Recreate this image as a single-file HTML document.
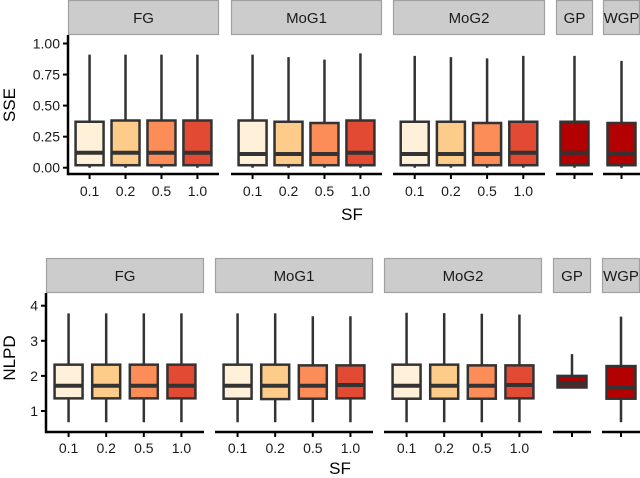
<!DOCTYPE html>
<html><head><meta charset="utf-8">
<style>
html,body{margin:0;padding:0;background:#fff;}
svg{display:block;font-family:"Liberation Sans",Arial,sans-serif;}
</style></head>
<body>
<svg id="chart" width="640" height="478" viewBox="0 0 640 478"></svg>
<script>
// ---- data ----
const panels = ["FG","MoG1","MoG2","GP","WGP"];
const sfLevels = ["0.1","0.2","0.5","1.0"];
const sseTicks = [0, 0.25, 0.5, 0.75, 1.0];
const sseTickLabels = ["0.00","0.25","0.50","0.75","1.00"];
const nlpdTicks = [1,2,3,4];
const nlpdTickLabels = ["1","2","3","4"];
// SSE per panel: [low, q1, median, q3, high]
const sseFG   = [[0,0.02,0.12,0.37,0.91],[0,0.02,0.12,0.38,0.91],[0,0.02,0.12,0.38,0.91],[0,0.02,0.12,0.38,0.91]];
const sseMoG1 = [[0,0.02,0.11,0.38,0.91],[0,0.02,0.11,0.37,0.89],[0,0.02,0.11,0.36,0.87],[0,0.02,0.12,0.38,0.92]];
const sseMoG2 = [[0,0.02,0.11,0.37,0.90],[0,0.02,0.11,0.37,0.89],[0,0.02,0.11,0.36,0.88],[0,0.02,0.12,0.37,0.90]];
const sseGP   = [[0,0.02,0.12,0.37,0.90]];
const sseWGP  = [[0,0.02,0.11,0.36,0.86]];
// NLPD
const nlpdFG   = [[0.68,1.36,1.72,2.32,3.78],[0.68,1.36,1.72,2.32,3.78],[0.68,1.36,1.72,2.32,3.78],[0.68,1.36,1.72,2.32,3.78]];
const nlpdMoG1 = [[0.68,1.35,1.72,2.32,3.78],[0.68,1.34,1.72,2.32,3.78],[0.68,1.35,1.72,2.30,3.70],[0.68,1.36,1.74,2.30,3.70]];
const nlpdMoG2 = [[0.68,1.35,1.72,2.32,3.80],[0.68,1.35,1.72,2.32,3.79],[0.68,1.35,1.72,2.30,3.77],[0.68,1.36,1.74,2.30,3.75]];
const nlpdGP   = [[1.66,1.67,1.80,2.00,2.62]];
const nlpdWGP  = [[0.68,1.35,1.66,2.28,3.69]];
const fills4 = ["#FEF0D9","#FDCC8A","#FC8D59","#E34A33"];
const fillGP = "#B30000";

const NS="http://www.w3.org/2000/svg";
const svg=document.getElementById('chart');
function el(tag,attrs,parent){const e=document.createElementNS(NS,tag);for(const k in attrs)e.setAttribute(k,attrs[k]);(parent||svg).appendChild(e);return e;}

function drawRow(cfg){
  const g=el('g',{});
  
  
  const y=v=>cfg.y0+(v-cfg.vmin)*(cfg.y1-cfg.y0)/(cfg.vmax-cfg.vmin);
  cfg.panels.forEach((p,pi)=>{
    const pg=el('g',{},g);
    
    
    const s=el('rect',{x:p.x0+0.5,y:cfg.stripTop+0.5,width:p.x1-p.x0-1,height:cfg.stripBot-cfg.stripTop-1,fill:'#CCCCCC',stroke:'#A0A0A0','stroke-width':1.2},pg);
    
    
    const st=el('text',{x:(p.x0+p.x1)/2,y:(cfg.stripTop+cfg.stripBot)/2+5.5,'text-anchor':'middle','font-size':15,fill:'#1a1a1a'},pg);
    st.textContent=p.label;
    
    
    const n=p.data.length;
    const step=(p.x1-p.x0)/(n+0.2);
    const cx=i=>n===1?(p.x0+p.x1)/2:p.x0+(i+0.6)*step;
    const ax=el('line',{x1:p.x0,x2:p.x1,y1:cfg.axisY,y2:cfg.axisY,stroke:'#000','stroke-width':2.5},pg);
    
    
    p.data.forEach((d,i)=>{
      const x=cx(i), w=p.bw;
      const bg=el('g',{},pg);
      
      
      el('line',{x1:x,x2:x,y1:y(d[0]),y2:y(d[4]),stroke:'#333','stroke-width':2.5},bg);
      el('rect',{x:x-w/2,y:y(d[3]),width:w,height:y(d[1])-y(d[3]),fill:n===1?fillGP:fills4[i],stroke:'#333','stroke-width':2.5},bg);
      el('line',{x1:x-w/2,x2:x+w/2,y1:y(d[2]),y2:y(d[2]),stroke:'#333','stroke-width':4},bg);
      el('line',{x1:x,x2:x,y1:cfg.axisY,y2:cfg.axisY+5,stroke:'#000','stroke-width':2},pg);
      if(n>1){
        const t=el('text',{x:x,y:cfg.tickY,'text-anchor':'middle','font-size':14,fill:'#1a1a1a'},pg);
        t.textContent=sfLevels[i];
        
        
      }
    });
  });
  const x0=cfg.panels[0].x0;
  const ya=el('line',{x1:x0,x2:x0,y1:cfg.stripBot,y2:cfg.axisY+1.2,stroke:'#000','stroke-width':2.5},g);
  
  
  cfg.ticks.forEach((v,i)=>{
    el('line',{x1:x0-5,x2:x0,y1:y(v),y2:y(v),stroke:'#000','stroke-width':2},g);
    const t=el('text',{x:x0-8,y:y(v)+5,'text-anchor':'end','font-size':14,fill:'#1a1a1a'},g);
    t.textContent=cfg.tickLabels[i];
    
    
  });
  const yt=el('text',{transform:`translate(${cfg.ytX},${cfg.ytY}) rotate(-90)`,'text-anchor':'middle','font-size':17,fill:'#000'},g);
  yt.textContent=cfg.yTitle;
  
  
  const xt=el('text',{x:cfg.xtX,y:cfg.xtY,'text-anchor':'middle','font-size':17,fill:'#000'},g);
  xt.textContent='SF';
  
  
}

drawRow({name:'sse-row',vmin:0,vmax:1,y0:167.7,y1:43.5,stripTop:0,stripBot:35,axisY:174,tickY:196,
  ticks:sseTicks,tickLabels:sseTickLabels,yTitle:'SSE',ytX:15,ytY:105,xtX:352,xtY:220,
  panels:[{label:panels[0],x0:68,x1:219,bw:28,data:sseFG},{label:panels[1],x0:231,x1:382,bw:28,data:sseMoG1},
          {label:panels[2],x0:393,x1:545,bw:28,data:sseMoG2},{label:panels[3],x0:556,x1:593,bw:28,data:sseGP},
          {label:panels[4],x0:603,x1:640,bw:28,data:sseWGP}]});
drawRow({name:'nlpd-row',vmin:1,vmax:4,y0:411,y1:305.7,stripTop:258,stripBot:293,axisY:432,tickY:453,
  ticks:nlpdTicks,tickLabels:nlpdTickLabels,yTitle:'NLPD',ytX:15,ytY:358,xtX:340,xtY:474,
  panels:[{label:panels[0],x0:46,x1:204,bw:28,data:nlpdFG},{label:panels[1],x0:215,x1:373,bw:28,data:nlpdMoG1},
          {label:panels[2],x0:384,x1:542,bw:28,data:nlpdMoG2},{label:panels[3],x0:553,x1:591,bw:29,data:nlpdGP},
          {label:panels[4],x0:602,x1:640,bw:29,data:nlpdWGP}]});
</script>
</body></html>
